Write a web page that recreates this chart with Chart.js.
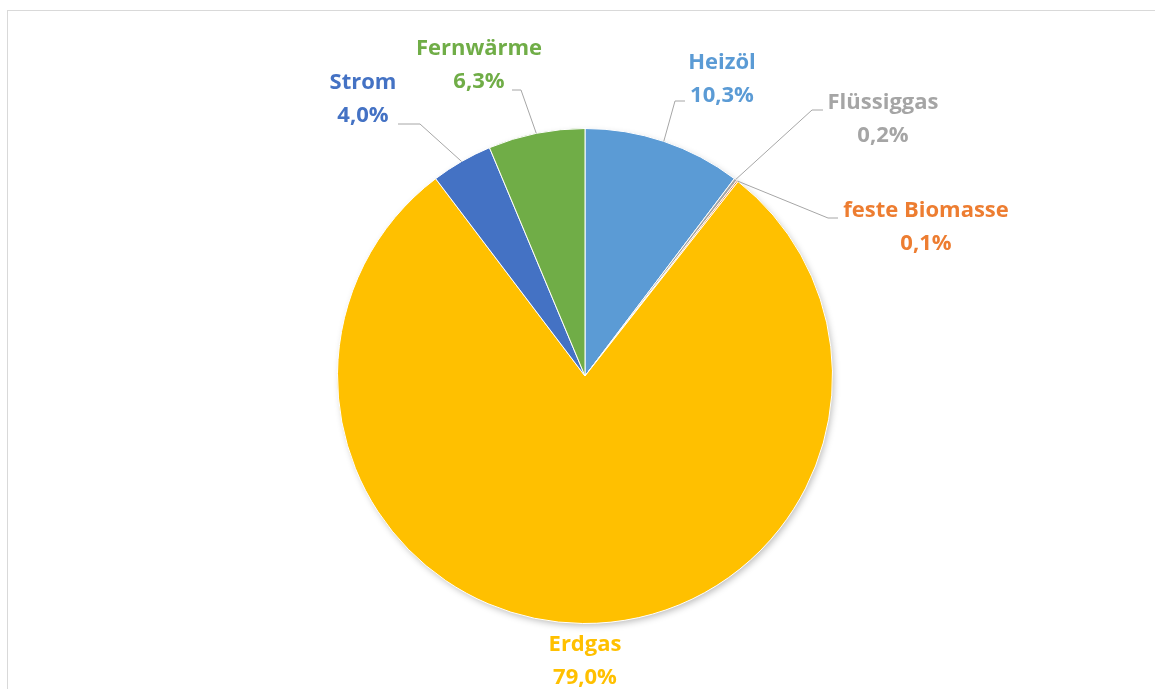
<!DOCTYPE html>
<html lang="de">
<head>
<meta charset="utf-8">
<title>Energieträger</title>
<script src="https://cdn.jsdelivr.net/npm/chart.js@4.4.1/dist/chart.umd.min.js"></script>
<style>
  html, body { margin: 0; padding: 0; background: #fff; overflow: hidden; }
  #wrap { position: relative; width: 1155px; height: 689px; }
  #frame {
    position: absolute; left: 7px; top: 10px; width: 1160px; height: 700px;
    border: 1px solid #D9D9D9; box-sizing: border-box; pointer-events: none;
  }
  canvas { position: absolute; left: 0; top: 0; }
</style>
</head>
<body>
<div id="wrap">
  <canvas id="chart" width="1155" height="689"></canvas>
  <div id="frame"></div>
</div>
<script>
// Data
const categories = ['Heizöl', 'Flüssiggas', 'feste Biomasse', 'Erdgas', 'Strom', 'Fernwärme'];
const shares = [10.3, 0.2, 0.1, 79.0, 4.0, 6.3];
const sliceColors = ['#5B9BD5', '#A5A5A5', '#ED7D31', '#FFC000', '#4472C4', '#70AD47'];

// Label placement relative to pie centre: text block centre (dx, dy),
// leader elbow (ex, ey) and end of the horizontal stub (hx)
const labelLayout = [
  { dx: 137, dy: -297, ex: 90, ey: -275, hx: 100 },
  { dx: 298, dy: -257, ex: 227, ey: -266, hx: 238 },
  { dx: 341, dy: -149, ex: 243, ey: -158, hx: 253 },
  { dx: 0, dy: 285, ex: null },
  { dx: -222, dy: -277, ex: -165, ey: -252, hx: -187 },
  { dx: -106, dy: -311, ex: -64, ey: -286, hx: -73 }
];

const LABEL_FONT = '700 22px "Open Sans", sans-serif';
const LINE_GAP = 33;

function formatShare(v) {
  return v.toFixed(1).replace('.', ',') + '%';
}

// Soft drop shadow under the whole pie, like the office chart
const pieShadow = {
  id: 'pieShadow',
  beforeDatasetsDraw(chart) {
    const arc = chart.getDatasetMeta(0).data[0];
    if (!arc) return;
    const ctx = chart.ctx;
    ctx.save();
    ctx.shadowColor = 'rgba(0,0,0,0.28)';
    ctx.shadowBlur = 7;
    ctx.shadowOffsetX = 2;
    ctx.shadowOffsetY = 3;
    ctx.fillStyle = '#FFC000';
    ctx.beginPath();
    ctx.arc(arc.x, arc.y, arc.outerRadius - 1, 0, Math.PI * 2);
    ctx.fill();
    ctx.restore();
  }
};

// Category name + percentage with leader lines
const outsideLabels = {
  id: 'outsideLabels',
  afterDatasetsDraw(chart) {
    const ctx = chart.ctx;
    const meta = chart.getDatasetMeta(0);
    ctx.save();
    ctx.font = LABEL_FONT;
    ctx.textAlign = 'center';
    ctx.textBaseline = 'middle';
    meta.data.forEach((arc, i) => {
      const lay = labelLayout[i];
      const cx = arc.x, cy = arc.y;
      if (lay.ex !== null) {
        const mid = (arc.startAngle + arc.endAngle) / 2;
        const ax = cx + Math.cos(mid) * arc.outerRadius;
        const ay = cy + Math.sin(mid) * arc.outerRadius;
        ctx.strokeStyle = '#A6A6A6';
        ctx.lineWidth = 1;
        ctx.beginPath();
        ctx.moveTo(ax, ay);
        ctx.lineTo(cx + lay.ex, cy + lay.ey);
        ctx.lineTo(cx + lay.hx, cy + lay.ey);
        ctx.stroke();
      }
      ctx.fillStyle = sliceColors[i];
      const tx = cx + lay.dx, ty = cy + lay.dy;
      ctx.fillText(categories[i], tx, ty - LINE_GAP / 2);
      ctx.fillText(formatShare(shares[i]), tx, ty + LINE_GAP / 2);
    });
    ctx.restore();
  }
};

new Chart(document.getElementById('chart'), {
  type: 'pie',
  data: {
    labels: categories,
    datasets: [{
      data: shares,
      backgroundColor: sliceColors,
      borderColor: '#FFFFFF',
      borderWidth: 1
    }]
  },
  options: {
    responsive: false,
    animation: false,
    layout: {
      padding: { top: 128, bottom: 65, left: 337, right: 322 }
    },
    plugins: {
      legend: { display: false },
      tooltip: { enabled: false }
    }
  },
  plugins: [pieShadow, outsideLabels]
});
</script>
</body>
</html>
